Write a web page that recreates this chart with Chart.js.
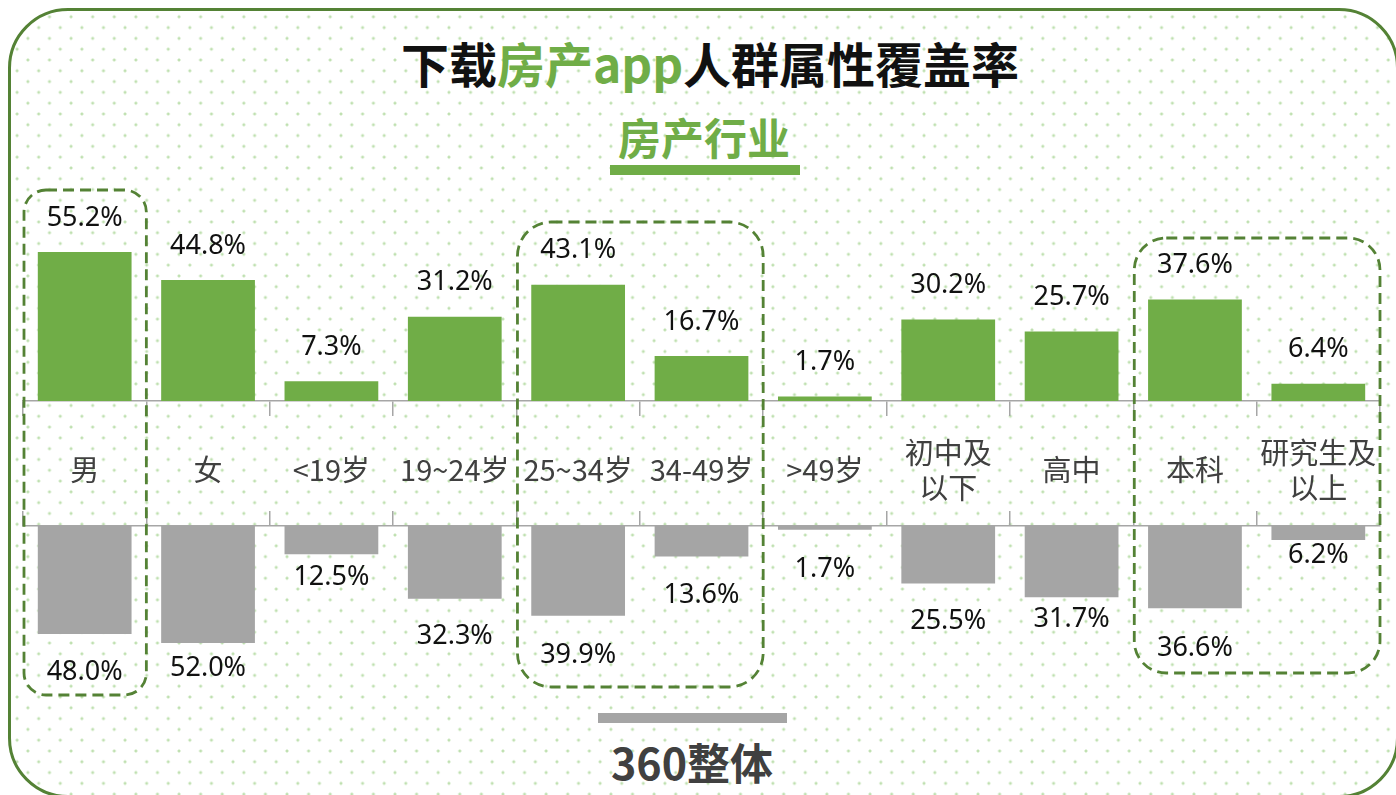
<!DOCTYPE html>
<html>
<head>
<meta charset="utf-8">
<script src="https://cdn.jsdelivr.net/npm/chart.js@4.4.1/dist/chart.umd.min.js"></script>
<style>
  html, body { margin: 0; padding: 0; background: #fff; }
  body { width: 1396px; height: 795px; overflow: hidden; position: relative;
         font-family: "Noto Sans CJK SC", "Noto Sans", sans-serif; }
  #frame { position: absolute; left: 8px; top: 8px; width: 1385px; height: 784px;
           border: 3.5px solid #548235; border-radius: 60px;
           background-image:
             radial-gradient(circle at center, #bfe0b0 0, #bfe0b0 1.2px, rgba(255,255,255,0) 1.8px),
             radial-gradient(circle at center, #bfe0b0 0, #bfe0b0 1.2px, rgba(255,255,255,0) 1.8px);
           background-size: 21.6px 21.6px, 21.6px 21.6px;
           background-position: 6.1px 16.6px, 16.9px 5.8px; }
  .txt { position: absolute; white-space: nowrap; line-height: 1; transform: translateX(-50%); font-weight: 700; }
  #title { left: 710px; top: 38px; font-size: 48px; color: #111; }
  #title span { color: #70ad47; }
  #sub { left: 704px; top: 115px; font-size: 43px; color: #70ad47; }
  #subBar { position: absolute; left: 610px; top: 165px; width: 190px; height: 10px; background: #70ad47; }
  #allBar { position: absolute; left: 598px; top: 713px; width: 189px; height: 10px; background: #a5a5a5; }
  #all { left: 692px; top: 740px; font-size: 43px; color: #404040; }
  canvas { position: absolute; left: 0; }
  #up { top: 150px; }
  #down { top: 511px; }
  #boxes { top: 0; pointer-events: none; }
</style>
</head>
<body>
<div id="frame"></div>
<div id="title" class="txt">下载<span>房产app</span>人群属性覆盖率</div>
<div id="sub" class="txt">房产行业</div>
<div id="subBar"></div>
<canvas id="up" width="1396" height="376"></canvas>
<canvas id="down" width="1396" height="195"></canvas>
<div id="allBar"></div>
<div id="all" class="txt">360整体</div>
<canvas id="boxes" width="1396" height="795"></canvas>

<script>
var categories = ['男', '女', '<19岁', '19~24岁', '25~34岁', '34-49岁', '>49岁',
                  ['初中及', '以下'], '高中', '本科', ['研究生及', '以上']];
// coverage among users who downloaded a real-estate app
var appShare = [55.2, 44.8, 7.3, 31.2, 43.1, 16.7, 1.7, 30.2, 25.7, 37.6, 6.4];
// coverage across all 360 users
var overallShare = [48.0, 52.0, 12.5, 32.3, 39.9, 13.6, 1.7, 25.5, 31.7, 36.6, 6.2];

// distance from the bar end to the centre of its value text
var upGap = 34;
var downGaps = [38.5, 25.5, 23, 38, 40, 39, 39, 38, 22, 39.5, 15];

// dashed groups: first / last category index, top, bottom, corner radius
var groups = [
  { from: 0, to: 0, top: 190, bottom: 695, r: 22 },
  { from: 4, to: 5, top: 222, bottom: 687, r: 34 },
  { from: 9, to: 10, top: 238, bottom: 673, r: 32 }
];

var GREEN = '#70ad47';
var GRAY = '#a5a5a5';
var AXIS = '#a6a6a6';
var SIDE = 23, RIGHT = 16;

function valueLabels( dir, gaps ){
  return {
    id: 'valueLabels',
    afterDatasetsDraw: function( chart ){
      var ctx = chart.ctx;
      var data = chart.data.datasets[0].data;
      ctx.save();
      ctx.font = '27px "Noto Sans", "Liberation Sans", sans-serif';
      ctx.fillStyle = '#111';
      ctx.textAlign = 'center';
      ctx.textBaseline = 'middle';
      chart.getDatasetMeta(0).data.forEach(function( bar, i ){
        var g = Array.isArray(gaps) ? gaps[i] : gaps;
        ctx.fillText(data[i].toFixed(1) + '%', bar.x, bar.y + dir * g);
      });
      ctx.restore();
    }
  };
}

function axisGrid(){
  return { display: true, drawOnChartArea: false, drawTicks: true, tickLength: 15,
           color: AXIS, lineWidth: 1.5, offset: true };
}

// keep the category axis spanning the full plot width (no label padding at the ends)
function fitBand( height ){
  return function( s ){
    s.height = height;
    s.paddingLeft = 0;
    s.paddingRight = 0;
  };
}

var upper = new Chart(document.getElementById('up').getContext('2d'), {
  type: 'bar',
  data: {
    labels: categories,
    datasets: [{ data: appShare, backgroundColor: GREEN, borderWidth: 0,
                 barPercentage: 0.76, categoryPercentage: 1 }]
  },
  options: {
    responsive: false,
    animation: false,
    events: [],
    layout: { padding: { left: SIDE, right: RIGHT, top: 8, bottom: 0 } },
    plugins: { legend: { display: false }, tooltip: { enabled: false } },
    scales: {
      x: {
        grid: axisGrid(),
        border: { display: true, color: AXIS, width: 1.5 },
        ticks: { autoSkip: false, maxRotation: 0, minRotation: 0, padding: 37,
                 crossAlign: 'center', color: '#404040',
                 font: { family: '"Noto Sans CJK SC", "Noto Sans", sans-serif', size: 29, lineHeight: 1.2 } },
        afterFit: fitBand(125)
      },
      y: { display: false, min: 0, max: 90 }
    }
  },
  plugins: [valueLabels(-1, upGap)]
});

var lower = new Chart(document.getElementById('down').getContext('2d'), {
  type: 'bar',
  data: {
    labels: categories,
    datasets: [{ data: overallShare, backgroundColor: GRAY, borderWidth: 0,
                 barPercentage: 0.76, categoryPercentage: 1 }]
  },
  options: {
    responsive: false,
    animation: false,
    events: [],
    layout: { padding: { left: SIDE, right: RIGHT, top: 0, bottom: 0 } },
    plugins: { legend: { display: false }, tooltip: { enabled: false } },
    scales: {
      x: {
        position: 'top',
        grid: axisGrid(),
        border: { display: true, color: AXIS, width: 1.5 },
        ticks: { display: false },
        afterFit: fitBand(15)
      },
      y: { display: false, reverse: true, min: 0, max: 80 }
    }
  },
  plugins: [valueLabels(1, downGaps)]
});

// dashed rounded frames around the highlighted groups
function roundRect( ctx, x, y, w, h, r ){
  ctx.beginPath();
  ctx.moveTo(x + r, y);
  ctx.arcTo(x + w, y, x + w, y + h, r);
  ctx.arcTo(x + w, y + h, x, y + h, r);
  ctx.arcTo(x, y + h, x, y, r);
  ctx.arcTo(x, y, x + w, y, r);
  ctx.closePath();
}

var bctx = document.getElementById('boxes').getContext('2d');
var xs = upper.scales.x;
var step = xs.width / categories.length;
bctx.strokeStyle = '#548235';
bctx.lineWidth = 2.8;
bctx.setLineDash([11, 6]);
groups.forEach(function( g ){
  var left = xs.getPixelForValue(g.from) - step / 2 + 1;
  var right = xs.getPixelForValue(g.to) + step / 2;
  roundRect(bctx, left, g.top, right - left, g.bottom - g.top, g.r);
  bctx.stroke();
});
</script>
</body>
</html>
